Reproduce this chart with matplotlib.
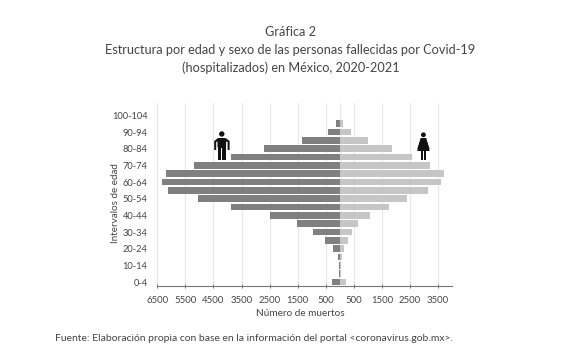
import matplotlib
matplotlib.use("Agg")
import matplotlib.pyplot as plt
from matplotlib.patches import Circle, Polygon, Rectangle, FancyBboxPatch

plt.rcParams['font.family'] = ['Lato', 'DejaVu Sans']

ages = ["0-4", "5-9", "10-14", "15-19", "20-24", "25-29", "30-34", "35-39", "40-44", "45-49",
        "50-54", "55-59", "60-64", "65-69", "70-74", "75-79", "80-84", "85-89", "90-94", "95-99", "100-104"]
men = [278, 40, 40, 65, 230, 527, 965, 1535, 2485, 3875,
       5060, 6130, 6340, 6200, 5200, 3875, 2690, 1335, 430, 135, 10]
women = [210, 50, 55, 70, 160, 300, 445, 660, 1090, 1750,
         2380, 3150, 3605, 3710, 3200, 2560, 1870, 990, 400, 100, 15]
x_ticks = [-6500, -5500, -4500, -3500, -2500, -1500, -500, 500, 1500, 2500, 3500]
x_labels = ["6500", "5500", "4500", "3500", "2500", "1500", "500", "500", "1500", "2500", "3500"]

W, H = 580, 363
TXT = "#454545"
fig = plt.figure(figsize=(W / 100, H / 100), dpi=100, facecolor="white")
L, R, T, B = 157.3, 452.1, 103.0, 286.2
ax = fig.add_axes([L / W, 1 - B / H, (R - L) / W, (B - T) / H])

y = range(len(ages))
ax.barh(y, [-m for m in men], height=0.8, color="#808080", zorder=3)
ax.barh(y, women, height=0.8, color="#c6c6c6", zorder=3)

ax.set_xlim(-6500, 4000)
ax.set_ylim(-0.5, 21.5)
ax.set_xticks(x_ticks)
ax.set_xticklabels(x_labels, fontsize=6.9, color=TXT)
ax.set_yticks(list(y)[::2])
ax.set_yticklabels(ages[::2], fontsize=6.7, color=TXT)
ax.tick_params(axis="y", length=0, pad=7)
ax.tick_params(axis="x", length=3, width=0.7, color="#777777", direction="inout", pad=5.5)
ax.grid(axis="x", color="#e8e8e8", linewidth=0.9, zorder=0)
ax.axvline(0, color="#e8e8e8", linewidth=0.9, zorder=0)
ax.set_axisbelow(True)
for s in ["top", "right", "left"]:
    ax.spines[s].set_visible(False)
ax.spines["bottom"].set_color("#777777")
ax.spines["bottom"].set_linewidth(0.8)

def ptext(x, y, s, size, **kw):
    fig.text(x / W, 1 - y / H, s, fontsize=size, color=TXT, ha=kw.pop("ha", "center"), va="center", **kw)

ptext(290.5, 32, "Gráfica 2", 9.2)
ptext(290.5, 50, "Estructura por edad y sexo de las personas fallecidas por Covid-19", 9.2)
ptext(290.5, 67.5, "(hospitalizados) en México, 2020-2021", 9.2)
ptext(300.5, 313, "Número de muertos", 7.2)
ptext(115.5, 203, "Intervalos de edad", 7.1, rotation=90)
ptext(55, 338.5, "Fuente: Elaboración propia con base en la información del portal <coronavirus.gob.mx>.", 7.45, ha="left")

# Pictograms in a pixel-space overlay
ov = fig.add_axes([0, 0, 1, 1], facecolor="none")
ov.set_xlim(0, W)
ov.set_ylim(H, 0)
ov.axis("off")
k = "#111111"
# man
ov.add_patch(Circle((221.8, 134), 2.7, color=k, lw=0))
ov.add_patch(FancyBboxPatch((217.5, 138), 8.6, 10, boxstyle="round,pad=0,rounding_size=1.5", color=k, lw=0))
ov.add_patch(Rectangle((218.0, 147), 3.3, 12.5, color=k, lw=0))
ov.add_patch(Rectangle((222.4, 147), 3.3, 12.5, color=k, lw=0))
ov.add_patch(Polygon([(218, 138), (214.2, 141), (214.2, 150), (216.2, 150), (216.2, 142), (219, 141)], color=k, lw=0))
ov.add_patch(Polygon([(225.6, 138), (229.6, 141), (229.6, 150), (227.6, 150), (227.6, 142), (224.6, 141)], color=k, lw=0))
# woman
ov.add_patch(Circle((423.4, 134.8), 2.4, color=k, lw=0))
ov.add_patch(Polygon([(420.8, 138), (426, 138), (429.6, 151), (417.2, 151)], color=k, lw=0))
ov.add_patch(Polygon([(420.8, 138), (417.3, 149), (418.6, 149.6), (422, 141)], color=k, lw=0))
ov.add_patch(Polygon([(426, 138), (429.6, 149), (428.2, 149.6), (425, 141)], color=k, lw=0))
ov.add_patch(Rectangle((420.6, 150), 2.2, 10, color=k, lw=0))
ov.add_patch(Rectangle((424, 150), 2.2, 10, color=k, lw=0))

fig.savefig("out.png", dpi=100, facecolor="white")
